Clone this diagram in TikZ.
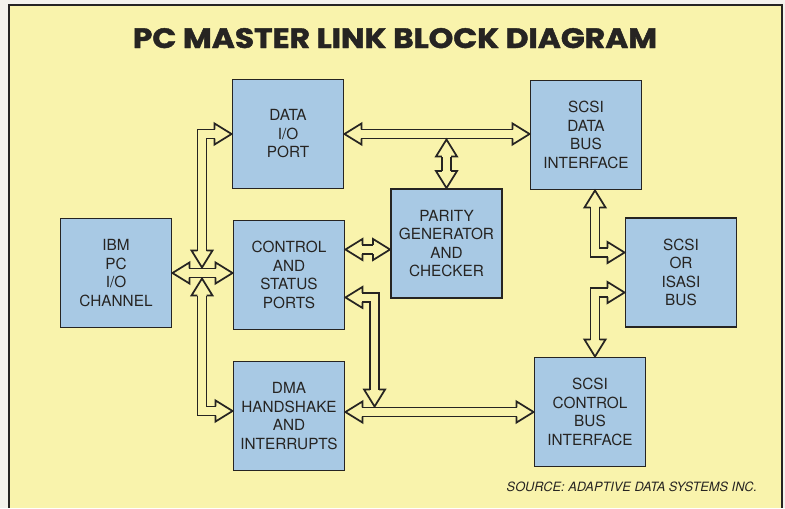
\documentclass[tikz,border=0pt]{standalone}
\usepackage{fontspec}
\setmainfont{TeX Gyre Heros}
\newfontfamily\titlefont{Poppins}[BoldFeatures={FakeBold=1.5}]
\usetikzlibrary{calc}

\definecolor{paperwhite}{RGB}{244,242,236}
\definecolor{chartyellow}{RGB}{249,243,172}
\definecolor{boxblue}{RGB}{168,201,228}
\definecolor{ink}{RGB}{38,36,34}

\tikzset{
  block/.style={draw=ink, line width=1.4pt, fill=boxblue, text=ink, minimum width=83.25pt, minimum height=81.75pt, inner sep=0pt, align=center, font=\fontsize{11.5}{13.9}\selectfont},
  bus/.style={draw=ink, line width=1.3pt, double=chartyellow, double distance=5.6pt, shorten <=12.75pt, shorten >=12.75pt},
  head/.pic={\draw[ink, line width=1.3pt] (-17,-4.6) -- (-17,-10.5) -- (0,0) -- (-17,10.5) -- (-17,4.6);}
}

\begin{document}
\begin{tikzpicture}[x=0.75pt,y=0.75pt,yscale=-1,xscale=1]
\useasboundingbox (0,0) rectangle (785,508);

%Background and frame
\fill[paperwhite] (0,0) rectangle (785,508);
\fill[chartyellow] (9,5) rectangle (782,508);
\draw[ink, line width=1.1pt] (9,508) -- (9,5) -- (782,5) -- (782,508);

% Title
\node[anchor=base, text=ink, xscale=1.12, font=\titlefont\bfseries\fontsize{21}{21}\selectfont] (title) at (395,48) {PC MASTER LINK BLOCK DIAGRAM};

% Blocks
\node[block] (dio) at (288,134) {DATA\\I/O\\PORT};
\node[block] (ibm) at (116,273) {IBM\\PC\\I/O\\CHANNEL};
\node[block] (csp) at (289,275) {CONTROL\\AND\\STATUS\\PORTS};
\node[block] (dma) at (289,416) {DMA\\HANDSHAKE\\AND\\INTERRUPTS};
\node[block] (par) at (446.5,243.5) {PARITY\\GENERATOR\\AND\\CHECKER};
\node[block] (sdb) at (586,135) {SCSI\\DATA\\BUS\\INTERFACE};
\node[block] (isa) at (681,272.5) {SCSI\\OR\\ISASI\\BUS};
\node[block] (scb) at (590,412) {SCSI\\CONTROL\\BUS\\INTERFACE};

% Source line
\node[anchor=base west, text=ink, font=\itshape\fontsize{9.6}{10}\selectfont] (src) at (502,491) {SOURCE: ADAPTIVE DATA SYSTEMS INC.};

%Bus ends
\coordinate (jtop) at (202,267.5);
\coordinate (jbot) at (202,278.5);
\coordinate (dmain) at ($(dma.west)+(0,-5)$);
\coordinate (ptop) at ($(par.north |- dio.east)+(0,5.5)$);
\coordinate (cpar) at ($(csp.north east)!0.27!(csp.south east)$);
\coordinate (cdn) at ($(csp.south east)+(0,-33)$);
\coordinate (ctop) at ($(scb.west)+(-159,-5.5)$);
\coordinate (sdn) at ($(sdb.south)+(9,0)$);
\coordinate (iup) at ($(isa.west)+(0,-20)$);
\coordinate (ilo) at ($(isa.west)+(0,20)$);
\coordinate (scbn) at ($(scb.north)+(5,0)$);

%Double Arrows, left bus
\draw[bus] (dio.west) -| (jtop);
\path (dio.west) pic{head} (jtop) pic[rotate=-90]{head};
\draw[bus] (jbot) |- (dmain);
\path (jbot) pic[rotate=90]{head} (dmain) pic{head};
\draw[bus] (ibm.east) -- (ibm.east -| csp.west);
\path (ibm.east) pic[rotate=180]{head} (ibm.east -| csp.west) pic{head};

%Double Arrows, data bus
\draw[bus] (dio.east) -- (dio.east -| sdb.west);
\path (dio.east) pic[rotate=180]{head} (dio.east -| sdb.west) pic{head};
\draw[bus] (ptop) -- (par.north);
\path (ptop) pic[rotate=90]{head} (par.north) pic[rotate=-90]{head};
\draw[bus] (cpar) -- (cpar -| par.west);
\path (cpar) pic[rotate=180]{head} (cpar -| par.west) pic{head};

%Double Arrows, control bus
\draw[bus] (cdn) -| (ctop);
\path (cdn) pic[rotate=180]{head} (ctop) pic[rotate=-90]{head};
\draw[bus] (scb.west -| dma.east) -- (scb.west);
\path (scb.west -| dma.east) pic[rotate=180]{head} (scb.west) pic{head};

%Double Arrows, SCSI side
\draw[bus] (sdn) |- (iup);
\path (sdn) pic[rotate=90]{head} (iup) pic{head};
\draw[bus] (ilo) -| (scbn);
\path (ilo) pic{head} (scbn) pic[rotate=-90]{head};

\end{tikzpicture}
\end{document}
